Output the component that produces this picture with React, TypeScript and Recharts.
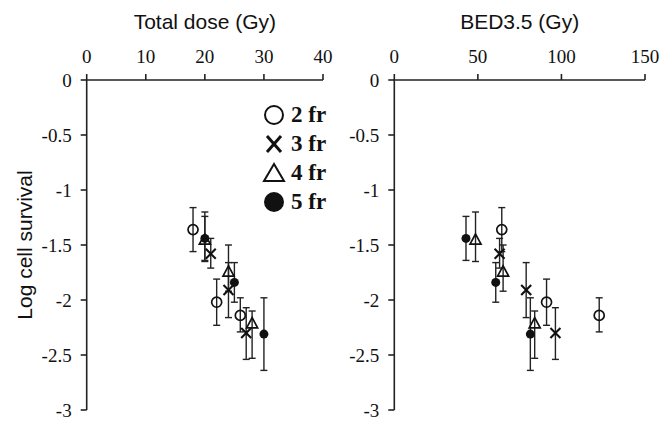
import React from 'react';
import { ScatterChart, Scatter, XAxis, YAxis, ErrorBar, Legend } from 'recharts';

// ---------- data ----------
const FRACTION_LABELS = ['2 fr', '3 fr', '4 fr', '5 fr'];

const TOTAL_DOSE_2FR = [18, 22, 26];
const TOTAL_DOSE_3FR = [21, 24, 27];
const TOTAL_DOSE_4FR = [20, 24, 28];
const TOTAL_DOSE_5FR = [20, 25, 30];

const BED_2FR = [64.3, 91.1, 122.6];
const BED_3FR = [63.0, 78.9, 96.4];
const BED_4FR = [48.6, 65.1, 84.0];
const BED_5FR = [42.9, 60.7, 81.4];

const SURVIVAL_2FR = [-1.36, -2.02, -2.14];
const SURVIVAL_3FR = [-1.58, -1.91, -2.3];
const SURVIVAL_4FR = [-1.45, -1.74, -2.21];
const SURVIVAL_5FR = [-1.44, -1.84, -2.31];

// [down, up]
const ERROR_2FR: [number, number][] = [[0.2, 0.2], [0.21, 0.21], [0.15, 0.16]];
const ERROR_3FR: [number, number][] = [[0.13, 0.14], [0.25, 0.25], [0.24, 0.23]];
const ERROR_4FR: [number, number][] = [[0.2, 0.25], [0.18, 0.24], [0.32, 0.11]];
const ERROR_5FR: [number, number][] = [[0.2, 0.2], [0.18, 0.18], [0.33, 0.33]];

const Y_TICKS = [0, -0.5, -1, -1.5, -2, -2.5, -3];
const DOSE_TICKS = [0, 10, 20, 30, 40];
const BED_TICKS = [0, 50, 100, 150];

const DOSE_TITLE = 'Total dose (Gy)';
const BED_TITLE = 'BED3.5 (Gy)';
const Y_TITLE = 'Log cell survival';

// ---------- helpers ----------
const build = (xs: number[], ys: number[], errs: [number, number][]) =>
  xs.map((x, i) => ({ x, y: ys[i], err: errs[i] }));

const INK = '#111';

const OpenCircle = (p: any) => (
  <circle cx={p.cx} cy={p.cy} r={5} fill="none" stroke={INK} strokeWidth={1.7} />
);
const Cross = (p: any) => {
  const s = 5;
  return (
    <g stroke={INK} strokeWidth={2.1}>
      <line x1={p.cx - s} y1={p.cy - s} x2={p.cx + s} y2={p.cy + s} />
      <line x1={p.cx - s} y1={p.cy + s} x2={p.cx + s} y2={p.cy - s} />
    </g>
  );
};
const Triangle = (p: any) => {
  const s = 5.5;
  return (
    <polygon
      points={`${p.cx},${p.cy - s} ${p.cx - s},${p.cy + s * 0.85} ${p.cx + s},${p.cy + s * 0.85}`}
      fill="none"
      stroke={INK}
      strokeWidth={1.7}
    />
  );
};
const Dot = (p: any) => <circle cx={p.cx} cy={p.cy} r={4.5} fill={INK} />;

const SHAPES = [OpenCircle, Cross, Triangle, Dot];

const legendSymbol = (i: number) => {
  const c = 12;
  if (i === 0) return <circle cx={c} cy={c} r={9} fill="none" stroke={INK} strokeWidth={2} />;
  if (i === 1)
    return (
      <g stroke={INK} strokeWidth={3}>
        <line x1={c - 7} y1={c - 8} x2={c + 7} y2={c + 8} />
        <line x1={c - 7} y1={c + 8} x2={c + 7} y2={c - 8} />
      </g>
    );
  if (i === 2)
    return (
      <polygon points={`${c},${c - 9} ${c - 10},${c + 8} ${c + 10},${c + 8}`} fill="none" stroke={INK} strokeWidth={2} />
    );
  return <circle cx={c} cy={c} r={10} fill={INK} />;
};

const LegendContent = () => (
  <div
    style={{
      fontFamily: '"Liberation Serif", "Times New Roman", serif',
      fontWeight: 'bold',
      fontSize: 23,
      color: INK,
      lineHeight: 1,
    }}
  >
    {FRACTION_LABELS.map((label, i) => (
      <div key={label} style={{ display: 'flex', alignItems: 'center', height: 29 }}>
        <svg width={24} height={24} style={{ display: 'block' }}>
          {legendSymbol(i)}
        </svg>
        <span style={{ marginLeft: 5 }}>{label}</span>
      </div>
    ))}
  </div>
);

const tickStyle = { fontFamily: '"Liberation Serif", "Times New Roman", serif', fontSize: 19, fill: INK };
const axisLineStyle = { stroke: '#222', strokeWidth: 1.6 };
const tickLineStyle = { stroke: '#222', strokeWidth: 1.6 };
const titleFont = { fontFamily: '"Liberation Sans", Arial, sans-serif', fontSize: 21, fill: INK };

type PanelProps = {
  left: number;
  width: number;
  margin: { top: number; right: number; bottom: number; left: number };
  yAxisWidth: number;
  xDomain: [number, number];
  xTicks: number[];
  xTitle: string;
  series: { x: number; y: number; err: [number, number] }[][];
  yTitle?: string;
  legend?: boolean;
};

const Panel = ({ left, width, margin, yAxisWidth, xDomain, xTicks, xTitle, series, yTitle, legend }: PanelProps) => (
  <div style={{ position: 'absolute', left, top: 0 }}>
    <ScatterChart width={width} height={421} margin={margin}>
      <XAxis
        type="number"
        dataKey="x"
        orientation="top"
        domain={xDomain}
        ticks={xTicks}
        height={40}
        axisLine={axisLineStyle}
        tickLine={tickLineStyle}
        tickSize={6}
        tickMargin={11}
        tick={tickStyle}
        interval={0}
        allowDataOverflow
        label={{ value: xTitle, position: 'top', offset: 11, style: titleFont }}
      />
      <YAxis
        type="number"
        dataKey="y"
        domain={[-3, 0]}
        ticks={Y_TICKS}
        width={yAxisWidth}
        axisLine={axisLineStyle}
        tickLine={tickLineStyle}
        tickSize={6}
        tickMargin={9}
        tick={tickStyle}
        interval={0}
        allowDataOverflow
        label={
          yTitle
            ? { value: yTitle, angle: -90, position: 'center', dx: -32, style: titleFont }
            : undefined
        }
      />
      {series.map((data, i) => (
        <Scatter key={FRACTION_LABELS[i]} name={FRACTION_LABELS[i]} data={data} shape={SHAPES[i]} isAnimationActive={false}>
          <ErrorBar dataKey="err" direction="y" width={3.5} stroke="#222" strokeWidth={1.4} isAnimationActive={false} />
        </Scatter>
      ))}
      {legend ? (
        <Legend
          layout="vertical"
          align="center"
          verticalAlign="middle"
          content={LegendContent}
          wrapperStyle={{ left: 262, top: 100, width: 90 }}
        />
      ) : null}
    </ScatterChart>
  </div>
);

export default function App() {
  const doseSeries = [
    build(TOTAL_DOSE_2FR, SURVIVAL_2FR, ERROR_2FR),
    build(TOTAL_DOSE_3FR, SURVIVAL_3FR, ERROR_3FR),
    build(TOTAL_DOSE_4FR, SURVIVAL_4FR, ERROR_4FR),
    build(TOTAL_DOSE_5FR, SURVIVAL_5FR, ERROR_5FR),
  ];
  const bedSeries = [
    build(BED_2FR, SURVIVAL_2FR, ERROR_2FR),
    build(BED_3FR, SURVIVAL_3FR, ERROR_3FR),
    build(BED_4FR, SURVIVAL_4FR, ERROR_4FR),
    build(BED_5FR, SURVIVAL_5FR, ERROR_5FR),
  ];
  return (
    <div style={{ position: 'absolute', left: 0, top: 0, width: 672, height: 421, background: '#fff', overflow: 'hidden' }}>
      <Panel
        left={0}
        width={336}
        margin={{ top: 40, right: 13, bottom: 11, left: 26.7 }}
        yAxisWidth={60}
        xDomain={[0, 40]}
        xTicks={DOSE_TICKS}
        xTitle={DOSE_TITLE}
        series={doseSeries}
        yTitle={Y_TITLE}
        legend
      />
      <Panel
        left={336}
        width={336}
        margin={{ top: 40, right: 27, bottom: 11, left: 8.3 }}
        yAxisWidth={50}
        xDomain={[0, 150]}
        xTicks={BED_TICKS}
        xTitle={BED_TITLE}
        series={bedSeries}
      />
    </div>
  );
}
